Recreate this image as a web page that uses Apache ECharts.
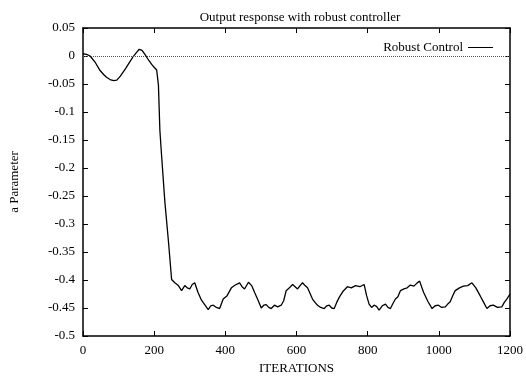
<!DOCTYPE html>
<html>
<head>
<meta charset="utf-8">
<script src="https://cdn.jsdelivr.net/npm/echarts@6/dist/echarts.min.js"></script>
<style>
  html, body { margin: 0; padding: 0; background: #fff; }
  #chart { width: 526px; height: 380px; }
</style>
</head>
<body>
<div id="chart"></div>
<script>
// iterations and a-parameter
const iterations = [0, 10, 20, 35, 48, 58, 66, 76, 86, 95, 105, 120, 132, 140, 150, 158, 166, 175, 185, 193, 200, 207,
  212, 216, 221, 230, 240, 249, 258, 268, 277, 286, 293, 300, 307, 314, 323, 333, 342, 352, 359, 366, 375, 384, 394,
  405, 417, 428, 440, 447, 454, 465, 474, 482, 492, 501, 508, 515, 522, 529, 538, 547, 557, 564, 571, 580, 589, 596,
  603, 610, 617, 624, 631, 645, 652, 659, 668, 678, 685, 692, 699, 706, 713, 720, 731, 743, 754, 766, 778, 790, 797,
  804, 811, 818, 825, 832, 841, 850, 857, 864, 871, 878, 885, 892, 902, 911, 920, 930, 938, 946, 957, 969, 981, 990,
  999, 1008, 1018, 1025, 1032, 1039, 1046, 1058, 1069, 1081, 1093, 1104, 1116, 1126, 1135, 1144, 1153, 1165, 1177,
  1184, 1191, 1200];
const aParam = [0.004, 0.003, 0.0, -0.012, -0.026, -0.033, -0.038, -0.042, -0.044, -0.043, -0.036, -0.022, -0.01,
  -0.002, 0.006, 0.012, 0.01, 0.002, -0.008, -0.015, -0.02, -0.025, -0.052, -0.132, -0.179, -0.26, -0.33, -0.399,
  -0.405, -0.41, -0.419, -0.41, -0.414, -0.416, -0.408, -0.405, -0.422, -0.436, -0.444, -0.453, -0.446, -0.445,
  -0.449, -0.451, -0.434, -0.428, -0.414, -0.409, -0.405, -0.412, -0.416, -0.404, -0.41, -0.422, -0.436, -0.45, -0.445,
  -0.444, -0.449, -0.451, -0.445, -0.448, -0.445, -0.437, -0.419, -0.414, -0.408, -0.412, -0.416, -0.41, -0.405,
  -0.41, -0.414, -0.434, -0.44, -0.445, -0.449, -0.451, -0.446, -0.445, -0.45, -0.451, -0.44, -0.431, -0.42, -0.412,
  -0.414, -0.41, -0.412, -0.408, -0.428, -0.443, -0.449, -0.445, -0.447, -0.454, -0.446, -0.443, -0.449, -0.451,
  -0.442, -0.434, -0.43, -0.419, -0.416, -0.414, -0.409, -0.411, -0.406, -0.402, -0.422, -0.438, -0.451, -0.446,
  -0.445, -0.449, -0.448, -0.443, -0.439, -0.428, -0.419, -0.414, -0.411, -0.41, -0.405, -0.414, -0.428, -0.44,
  -0.451, -0.446, -0.445, -0.449, -0.448, -0.44, -0.434, -0.425];

const xTicks = { min: 0, max: 1200, interval: 200 };
const yTicks = { min: -0.5, max: 0.05, interval: 0.05 };

const chart = echarts.init(document.getElementById('chart'));
const serif = 'Liberation Serif';
const points = iterations.map((it, i) => [it, aParam[i]]);

const axisLine = { show: true, onZero: false, lineStyle: { color: '#000', width: 1.5 } };
const tickIn = { show: true, inside: true, length: 5, lineStyle: { color: '#000', width: 1 } };

chart.setOption({
  animation: false,
  title: {
    text: 'Output response with robust controller',
    left: 295,
    textAlign: 'center',
    top: 6,
    textStyle: { fontFamily: serif, fontSize: 13, fontWeight: 'normal', color: '#000' },
  },
  legend: {
    data: ['Robust Control'],
    right: 28,
    top: 36,
    align: 'right',
    itemWidth: 25,
    itemGap: 6,
    icon: 'path://M0,0 L25,0 L25,1 L0,1 Z',
    textStyle: { fontFamily: serif, fontSize: 13, color: '#000' },
  },
  grid: { left: 81, right: 16, top: 28, bottom: 35, containLabel: false },
  xAxis: [
    {
      type: 'value', position: 'bottom', ...xTicks,
      name: 'ITERATIONS', nameLocation: 'middle', nameGap: 26,
      nameTextStyle: { fontFamily: serif, fontSize: 13, color: '#000' },
      axisLine, axisTick: tickIn, splitLine: { show: false },
      axisLabel: { fontFamily: serif, fontSize: 13, color: '#000', margin: 8, formatter: (v) => String(v) },
    },
    {
      type: 'value', position: 'top', ...xTicks,
      axisLine, axisTick: tickIn, splitLine: { show: false }, axisLabel: { show: false },
    },
  ],
  yAxis: [
    {
      type: 'value', position: 'left', ...yTicks,
      name: 'a Parameter', nameLocation: 'middle', nameGap: 62, nameRotate: 90,
      nameTextStyle: { fontFamily: serif, fontSize: 13, color: '#000' },
      axisLine, axisTick: tickIn, splitLine: { show: false },
      axisLabel: {
        fontFamily: serif, fontSize: 13, color: '#000', margin: 8,
        formatter: (v) => String(Math.round(v * 100) / 100),
      },
    },
    {
      type: 'value', position: 'right', ...yTicks,
      axisLine, axisTick: tickIn, splitLine: { show: false }, axisLabel: { show: false },
    },
  ],
  series: [
    {
      name: 'Robust Control',
      type: 'line',
      data: points,
      showSymbol: false,
      symbol: 'none',
      lineStyle: { color: '#000', width: 1.3 },
      itemStyle: { color: '#000' },
      markLine: {
        silent: true,
        symbol: 'none',
        label: { show: false },
        lineStyle: { color: '#555', width: 1, type: [1, 1] },
        data: [{ yAxis: 0 }],
      },
    },
  ],
});
</script>
</body>
</html>
